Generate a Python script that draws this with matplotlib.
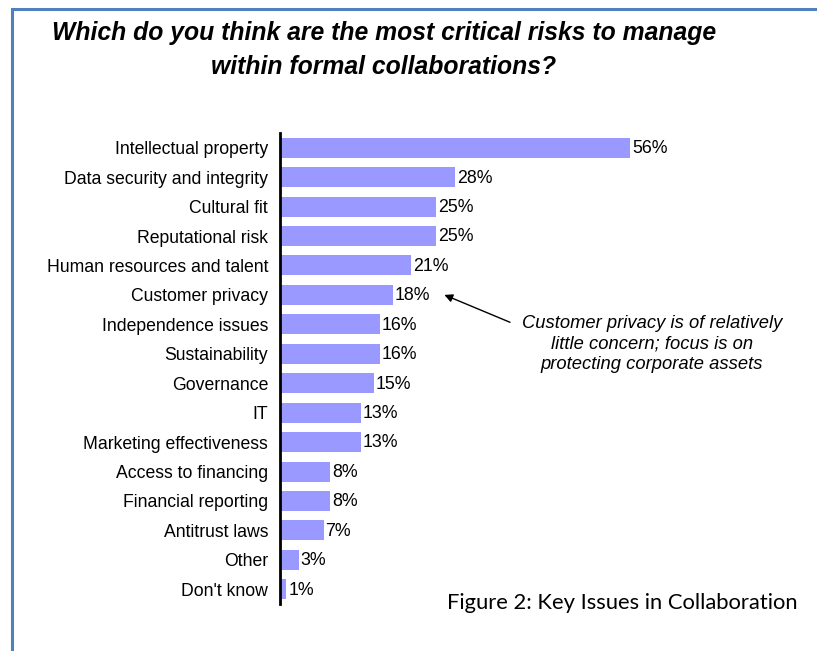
import matplotlib
matplotlib.use('Agg')
import matplotlib.pyplot as plt
from matplotlib.patches import Rectangle

# Survey data
categories = ['Intellectual property', 'Data security and integrity', 'Cultural fit',
              'Reputational risk', 'Human resources and talent', 'Customer privacy',
              'Independence issues', 'Sustainability', 'Governance', 'IT',
              'Marketing effectiveness', 'Access to financing', 'Financial reporting',
              'Antitrust laws', 'Other', "Don't know"]
values = [56, 28, 25, 25, 21, 18, 16, 16, 15, 13, 13, 8, 8, 7, 3, 1]

plt.rcParams['font.family'] = ['Liberation Sans', 'DejaVu Sans']

fig = plt.figure(figsize=(8.17, 6.51), dpi=100)

# blue frame around the page (runs off the right and bottom edges)
fig.patches.append(Rectangle((12 / 817, -0.1), 1.2, 1 - 9 / 651 + 0.1,
                             transform=fig.transFigure, fill=False,
                             edgecolor='#4f81bd', lw=2.2))

ax = fig.add_axes([280 / 817, 1 - 604 / 651, 375 / 817, 471 / 651])
ypos = list(range(len(categories)))
ax.barh(ypos, values, height=0.68, color='#9999ff', edgecolor='none')
ax.set_xlim(0, 60)
ax.set_ylim(len(categories) - 0.5, -0.5)
ax.set_yticks(ypos)
ax.set_yticklabels(categories, fontsize=12.7)
ax.set_xticks([])
ax.tick_params(axis='y', length=0, pad=8.5)
for s in ['top', 'right', 'bottom']:
    ax.spines[s].set_visible(False)
ax.spines['left'].set_linewidth(2)

for y, v in zip(ypos, values):
    ax.text(v + 0.3, y + 0.03, f'{v}%', va='center', ha='left', fontsize=12.8)

# title
title_lines = ['Which do you think are the most critical risks to manage',
               'within formal collaborations?']
for line, ty in zip(title_lines, [33, 67]):
    fig.text(384 / 817, 1 - ty / 651, line, ha='center', va='center',
             fontsize=17.8, fontweight='bold', style='italic')

# annotation
ax.annotate('', xy=(26.3, 5), xytext=(36.8, 5.93),
            arrowprops=dict(arrowstyle='-|>', color='black', lw=1, mutation_scale=12,
                            shrinkA=0, shrinkB=0))
fig.text(652 / 817, 1 - 344 / 651,
         'Customer privacy is of relatively\nlittle concern; focus is on\nprotecting corporate assets',
         ha='center', va='center', fontsize=13.2, style='italic', linespacing=1.3)

# figure caption
fig.text(447 / 817, 1 - 603 / 651, 'Figure 2: Key Issues in Collaboration',
         ha='left', va='center', fontsize=15.8, family=['Lato', 'DejaVu Sans'])

plt.savefig('out.png', dpi=100)
